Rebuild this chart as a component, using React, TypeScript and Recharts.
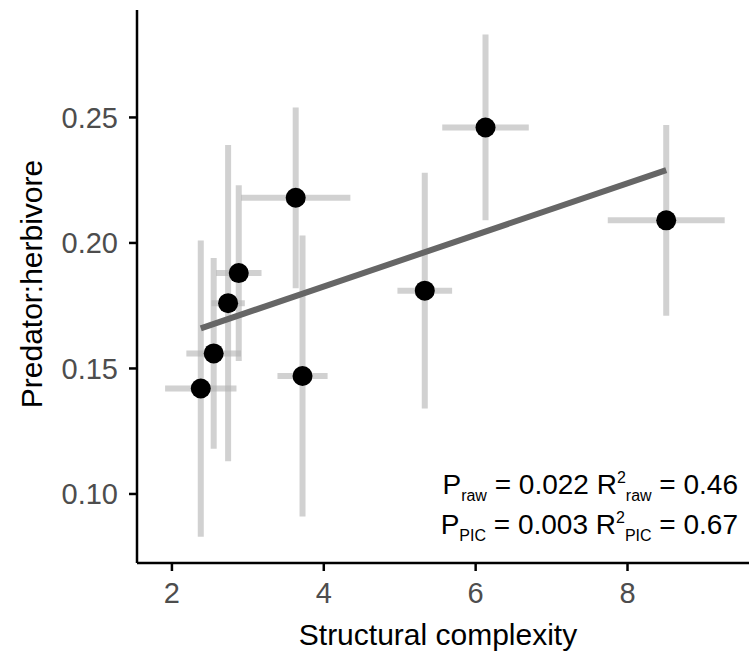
import React from 'react';
import { ComposedChart, Scatter, XAxis, YAxis, ErrorBar, Customized } from 'recharts';

// Structural complexity (x) and predator:herbivore ratio (y), with standard errors
const complexity = [2.38, 2.55, 2.74, 2.88, 3.63, 3.72, 5.33, 6.13, 8.51];
const ratio = [0.142, 0.156, 0.176, 0.188, 0.218, 0.147, 0.181, 0.246, 0.209];
const complexitySE = [0.47, 0.36, 0.22, 0.3, 0.72, 0.33, 0.36, 0.57, 0.77];
const ratioSE = [0.059, 0.038, 0.063, 0.035, 0.036, 0.056, 0.047, 0.037, 0.038];

// Fitted regression line end points
const fitX = [2.38, 8.51];
const fitY = [0.166, 0.229];

const xTicks = [2, 4, 6, 8];
const yTicks = [0.1, 0.15, 0.2, 0.25];

const points = complexity.map((x, i) => ({
  x,
  y: ratio[i],
  ex: complexitySE[i],
  ey: ratioSE[i],
}));
const fitLine = fitX.map((x, i) => ({ x, y: fitY[i] }));

const FONT = '"Liberation Sans", Arial, Helvetica, sans-serif';

const Annotations = () => (
  <g fontFamily={FONT}>
    <text x={438} y={645} textAnchor="middle" fontSize={30} fill="#000">
      Structural complexity
    </text>
    <text
      x={42}
      y={284}
      textAnchor="middle"
      fontSize={30}
      fill="#000"
      transform="rotate(-90, 42, 284)"
    >
      Predator:herbivore
    </text>
    <text x={738} y={494} textAnchor="end" fontSize={28} fill="#000">
      <tspan>P</tspan>
      <tspan fontSize={16} dy={7}>raw</tspan>
      <tspan dy={-7}> = 0.022 R</tspan>
      <tspan fontSize={16} dy={-11}>2</tspan>
      <tspan fontSize={16} dy={18}>raw</tspan>
      <tspan dy={-7}> = 0.46</tspan>
    </text>
    <text x={738} y={534} textAnchor="end" fontSize={28} fill="#000">
      <tspan>P</tspan>
      <tspan fontSize={16} dy={7}>PIC</tspan>
      <tspan dy={-7}> = 0.003 R</tspan>
      <tspan fontSize={16} dy={-11}>2</tspan>
      <tspan fontSize={16} dy={18}>PIC</tspan>
      <tspan dy={-7}> = 0.67</tspan>
    </text>
  </g>
);

const Dot = (props: any) => {
  const { cx, cy } = props;
  if (cx == null || cy == null) return null;
  return <circle cx={cx} cy={cy} r={10} fill="#000" />;
};

const Nothing = () => <g />;

export default function App() {
  return (
    <div style={{ position: 'absolute', left: 0, top: 0, background: '#fff' }}>
      <ComposedChart
        width={749}
        height={655}
        margin={{ top: 10, right: 0, bottom: 0, left: 0 }}
      >
        <XAxis
          type="number"
          dataKey="x"
          domain={[1.54, 9.6]}
          allowDataOverflow
          ticks={xTicks}
          height={92}
          tickSize={8}
          tickMargin={11}
          axisLine={{ stroke: '#000', strokeWidth: 2.5 }}
          tickLine={{ stroke: '#000', strokeWidth: 2.5 }}
          tick={{ fill: '#4D4D4D', fontSize: 29, fontFamily: FONT }}
        />
        <YAxis
          type="number"
          dataKey="y"
          domain={[0.0725, 0.2928]}
          allowDataOverflow
          ticks={yTicks}
          width={137}
          tickSize={8}
          tickMargin={11}
          tickFormatter={(v: number) => v.toFixed(2)}
          axisLine={{ stroke: '#000', strokeWidth: 2.5 }}
          tickLine={{ stroke: '#000', strokeWidth: 2.5 }}
          tick={{ fill: '#4D4D4D', fontSize: 29, fontFamily: FONT }}
        />
        <Scatter
          data={fitLine}
          dataKey="y"
          line={{ stroke: '#666666', strokeWidth: 6 }}
          shape={<Nothing />}
          isAnimationActive={false}
        />
        <Scatter data={points} dataKey="y" shape={<Nothing />} isAnimationActive={false}>
          <ErrorBar
            dataKey="ex"
            direction="x"
            width={0}
            stroke="#B3B3B3"
            strokeWidth={6}
            strokeOpacity={0.6}
            isAnimationActive={false}
          />
          <ErrorBar
            dataKey="ey"
            direction="y"
            width={0}
            stroke="#B3B3B3"
            strokeWidth={6}
            strokeOpacity={0.6}
            isAnimationActive={false}
          />
        </Scatter>
        <Scatter data={points} dataKey="y" shape={<Dot />} isAnimationActive={false} />
        <Customized component={Annotations} />
      </ComposedChart>
    </div>
  );
}
